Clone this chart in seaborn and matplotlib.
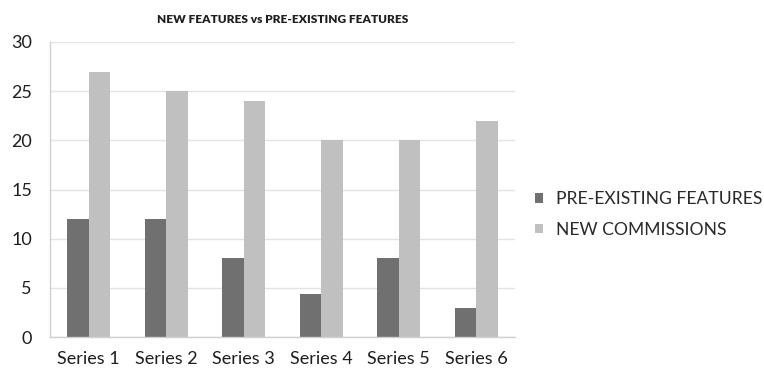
import matplotlib
matplotlib.use("Agg")
import matplotlib.pyplot as plt
import seaborn as sns
import pandas as pd

categories = ["Series 1", "Series 2", "Series 3", "Series 4", "Series 5", "Series 6"]
pre_existing = [12, 12, 8, 4.4, 8, 3]
new_commissions = [27, 25, 24, 20, 20, 22]
series_names = ["PRE-EXISTING FEATURES", "NEW COMMISSIONS"]
yticks = [0, 5, 10, 15, 20, 25, 30]

df = pd.DataFrame({
    "category": categories * 2,
    "value": pre_existing + new_commissions,
    "series": [series_names[0]] * len(categories) + [series_names[1]] * len(categories),
})

sns.set_theme(style="white")
plt.rcParams['font.family'] = ['Lato', 'DejaVu Sans']

fig = plt.figure(figsize=(7.64, 3.70), dpi=100)
ax = fig.add_axes([50/764, 33/370, 465/764, 295/370])

sns.barplot(data=df, x="category", y="value", hue="series",
            palette=["#707070", "#c0c0c0"], width=0.56, saturation=1,
            linewidth=0, edgecolor="none", ax=ax, legend=True)

ax.set_ylim(0, 30)
ax.set_yticks(yticks)
ax.set_xlim(-0.5, len(categories) - 0.5)
ax.yaxis.grid(True, color="#e3e3e3", linewidth=1)
ax.set_axisbelow(True)
ax.set_xlabel("")
ax.set_ylabel("")
for s in ["top", "right"]:
    ax.spines[s].set_visible(False)
for s in ["left", "bottom"]:
    ax.spines[s].set_color("#d0d0d0")
    ax.spines[s].set_linewidth(1)
ax.tick_params(axis="both", length=0, labelsize=13, colors="#1e1e1e")
ax.tick_params(axis="y", pad=13)
ax.tick_params(axis="x", pad=10)

ax.set_title("NEW FEATURES vs PRE-EXISTING FEATURES", fontsize=8.6, fontweight="heavy",
             color="#1e1e1e", pad=14)

ax.legend(loc="center left", bbox_to_anchor=(1.01, 0.415), frameon=False,
          fontsize=12.6, handlelength=0.45, handleheight=0.45, handletextpad=0.7,
          labelspacing=0.85)
for t in ax.get_legend().get_texts():
    t.set_color("#2a2a2a")

fig.savefig("out.png", dpi=100)
